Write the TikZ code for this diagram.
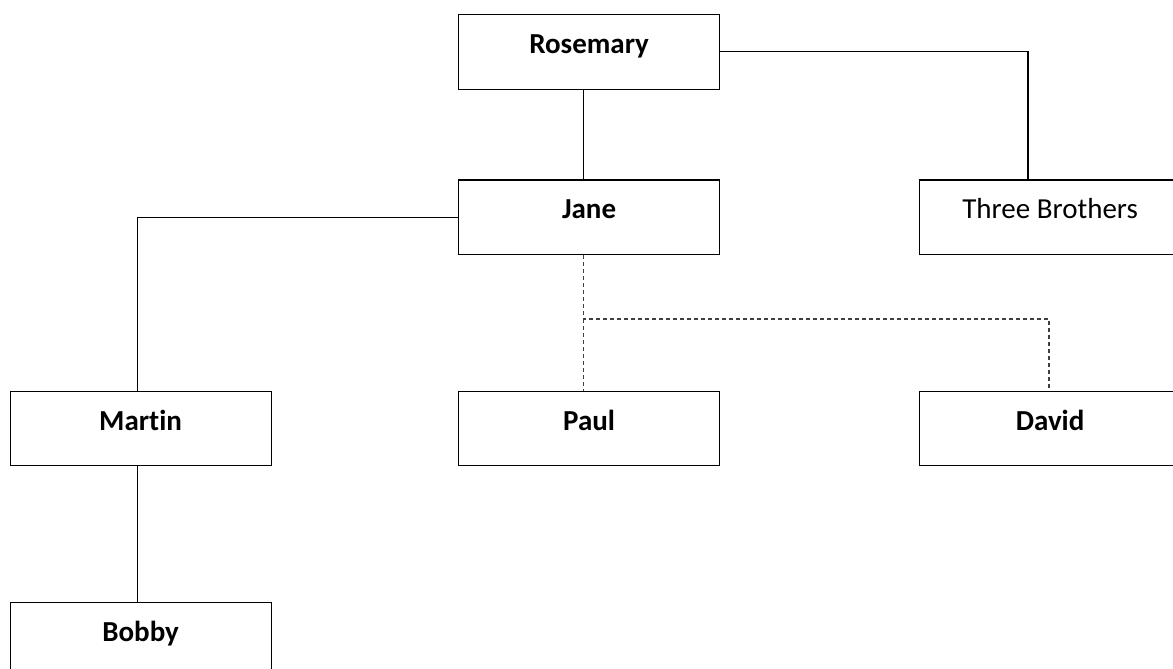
\documentclass[tikz,border=0pt]{standalone}
\usepackage{fontspec}
\setmainfont{Carlito}[Ligatures=NoCommon]
\begin{document}
\begin{tikzpicture}[x=0.75pt,y=-0.75pt,
  box/.style={draw=black, line width=0.9pt, rectangle, minimum width=195.75pt,
    minimum height=55.875pt, inner sep=0pt, anchor=north west,
    font=\fontsize{21.75}{26}\selectfont, text height=15pt, text depth=12.375pt},
  boldbox/.style={box, font=\fontsize{21.75}{26}\selectfont\bfseries},
  link/.style={draw=black, line width=0.9pt},
  dlink/.style={draw=black!75, line width=1.15pt, dash pattern=on 3pt off 2.25pt}]
\useasboundingbox (0,0) rectangle (1173,668);
\clip (0,0) rectangle (1173,668);
\node[boldbox] (rose) at (458,14) {Rosemary};
\node[boldbox] (jane) at (458,179.3) {Jane};
\node[box] (tb) at (919,179.3) {Three Brothers};
\node[boldbox] (martin) at (9.5,390.5) {Martin};
\node[boldbox] (paul) at (458,390.5) {Paul};
\node[boldbox] (david) at (919,390.5) {David};
\node[boldbox] (bobby) at (9.5,601.7) {Bobby};
\coordinate (cx) at (583.3,0);
\coordinate (tbx) at (1028,0);
\coordinate (mx) at (137.7,0);
\coordinate (dx) at (1049,0);
\coordinate (split) at (583.3,319);
% solid connectors
\draw[link] (rose.south -| cx) -- (jane.north -| cx);
\draw[link] (rose.east) -| (tb.north -| tbx);
\draw[link] (jane.west) -| (martin.north -| mx);
\draw[link] (martin.south -| mx) -- (bobby.north -| mx);
% dashed connectors
\draw[dlink] (jane.south -| cx) -- (split) -| (david.north -| dx);
\draw[dlink] (split) -- (paul.north -| cx);
\end{tikzpicture}
\end{document}
